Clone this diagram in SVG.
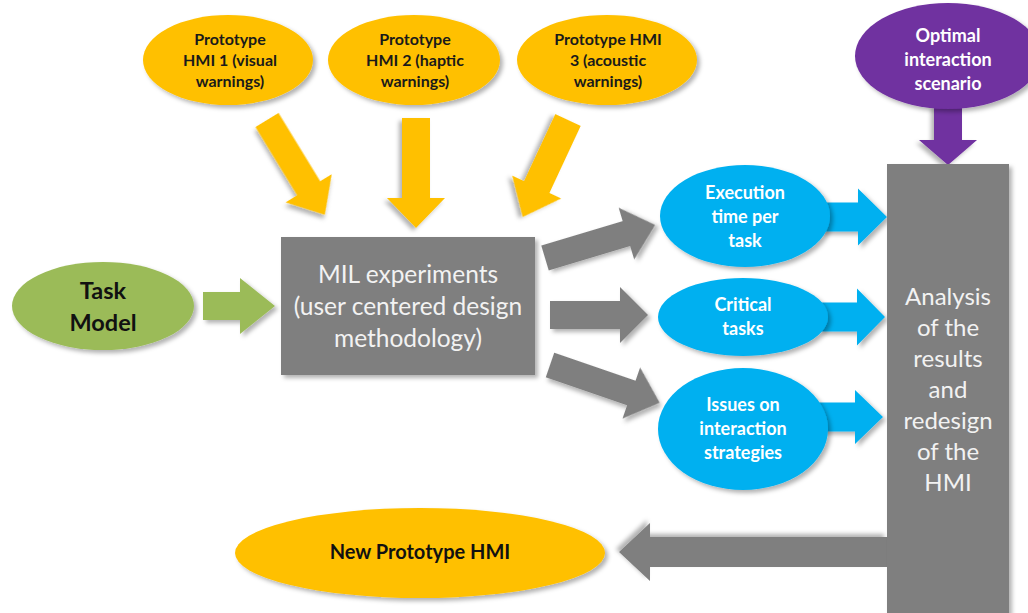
<svg xmlns="http://www.w3.org/2000/svg" width="1028" height="613" viewBox="0 0 1028 613">
<defs>
<filter id="sh" x="-20%" y="-20%" width="140%" height="140%">
<feDropShadow dx="3" dy="3" stdDeviation="2" flood-color="#000" flood-opacity="0.3"/>
</filter>
</defs>
<style>
.yel{fill:#FFC000;filter:url(#sh)}
.gry{fill:#7F7F7F;filter:url(#sh)}
.blu{fill:#00B0F0;filter:url(#sh)}
.grn{fill:#9BBB59;filter:url(#sh)}
.pur{fill:#7030A0;filter:url(#sh)}
text{font-family:Lato,"Liberation Sans",sans-serif;text-anchor:middle}
.tb{font-weight:bold;font-size:16px;fill:#1a1a1a}
.wb{font-weight:bold;font-size:18px;fill:#ffffff}
.gt{font-size:24px;fill:#F2F2F2}
</style>
<rect width="1028" height="613" fill="#ffffff"/>
<g id="connectors">
<path class="yel" transform="translate(267,120) rotate(58.6)" d="M0,-13.5 H80 V-27 L111,0 L80,27 V13.5 H0 Z"/>
<path class="yel" transform="translate(416,118) rotate(90)" d="M0,-14 H80 V-29 L110,0 L80,29 V14 H0 Z"/>
<path class="yel" transform="translate(568,120) rotate(115)" d="M0,-14 H74 V-27 L107,0 L74,27 V14 H0 Z"/>
<path class="grn" transform="translate(203,306)" d="M0,-14 H37 V-28 L72,0 L37,28 V14 H0 Z"/>
<path class="gry" transform="translate(545,258) rotate(-16.7)" d="M0,-13 H85 V-27 L115,0 L85,27 V13 H0 Z"/>
<path class="gry" transform="translate(550,315)" d="M0,-14 H70 V-28 L98,0 L70,28 V14 H0 Z"/>
<path class="gry" transform="translate(550,365) rotate(19)" d="M0,-13 H86 V-27 L116,0 L86,27 V13 H0 Z"/>
<path class="blu" transform="translate(820,217)" d="M0,-14.5 H38 V-28.5 L67,0 L38,28.5 V14.5 H0 Z"/>
<path class="blu" transform="translate(820,317)" d="M0,-14.5 H37 V-28.5 L65,0 L37,28.5 V14.5 H0 Z"/>
<path class="blu" transform="translate(815,417)" d="M0,-14.5 H40 V-27 L68,0 L40,27 V14.5 H0 Z"/>
<path class="pur" transform="translate(948,105) rotate(90)" d="M0,-14 H35 V-29 L60,0 L35,29 V14 H0 Z"/>
<path class="gry" transform="translate(887,552) rotate(180)" d="M0,-15 H237 V-29 L268,0 L237,29 V15 H0 Z"/>
</g>
<g id="proto1">
<ellipse class="yel" cx="228" cy="60" rx="85" ry="45"/>
<text class="tb" x="230" y="45">Prototype</text>
<text class="tb" x="230" y="66">HMI 1 (visual</text>
<text class="tb" x="230" y="87">warnings)</text>
</g>
<g id="proto2">
<ellipse class="yel" cx="414" cy="60" rx="86" ry="45"/>
<text class="tb" x="415" y="45">Prototype</text>
<text class="tb" x="415" y="66">HMI 2 (haptic</text>
<text class="tb" x="415" y="87">warnings)</text>
</g>
<g id="proto3">
<ellipse class="yel" cx="607" cy="60" rx="90" ry="45"/>
<text class="tb" x="608" y="45">Prototype HMI</text>
<text class="tb" x="608" y="66">3 (acoustic</text>
<text class="tb" x="608" y="87">warnings)</text>
</g>
<g id="optimal">
<ellipse class="pur" cx="948" cy="56" rx="93" ry="53"/>
<text class="wb" x="948" y="42">Optimal</text>
<text class="wb" x="948" y="66">interaction</text>
<text class="wb" x="948" y="90">scenario</text>
</g>
<g id="task">
<ellipse class="grn" cx="103" cy="306" rx="91" ry="44"/>
<text x="103" y="299" style="font-weight:bold;font-size:23.5px;fill:#111">Task</text>
<text x="103" y="331" style="font-weight:bold;font-size:23.5px;fill:#111">Model</text>
</g>
<g id="mil">
<rect class="gry" x="281" y="237" width="254" height="138"/>
<text class="gt" x="408" y="283" style="font-size:24.5px">MIL experiments</text>
<text class="gt" x="408" y="315" style="font-size:24.5px">(user centered design</text>
<text class="gt" x="408" y="347" style="font-size:24.5px">methodology)</text>
</g>
<g id="exec">
<ellipse class="blu" cx="745" cy="216" rx="85" ry="51"/>
<text class="wb" x="745" y="199">Execution</text>
<text class="wb" x="745" y="223">time per</text>
<text class="wb" x="745" y="247">task</text>
</g>
<g id="critical">
<ellipse class="blu" cx="743" cy="317" rx="85" ry="39"/>
<text class="wb" x="743" y="311">Critical</text>
<text class="wb" x="743" y="335">tasks</text>
</g>
<g id="issues">
<ellipse class="blu" cx="743" cy="429" rx="85" ry="61"/>
<text class="wb" x="743" y="411">Issues on</text>
<text class="wb" x="743" y="435">interaction</text>
<text class="wb" x="743" y="459">strategies</text>
</g>
<g id="analysis">
<rect class="gry" x="887" y="164" width="122" height="460"/>
<text class="gt" x="948" y="305">Analysis</text>
<text class="gt" x="948" y="336">of the</text>
<text class="gt" x="948" y="367">results</text>
<text class="gt" x="948" y="398">and</text>
<text class="gt" x="948" y="429">redesign</text>
<text class="gt" x="948" y="460">of the</text>
<text class="gt" x="948" y="491">HMI</text>
</g>
<g id="newproto">
<ellipse class="yel" cx="420" cy="553" rx="185" ry="45"/>
<text x="420" y="559" style="font-weight:bold;font-size:20px;fill:#111">New Prototype HMI</text>
</g>
</svg>
